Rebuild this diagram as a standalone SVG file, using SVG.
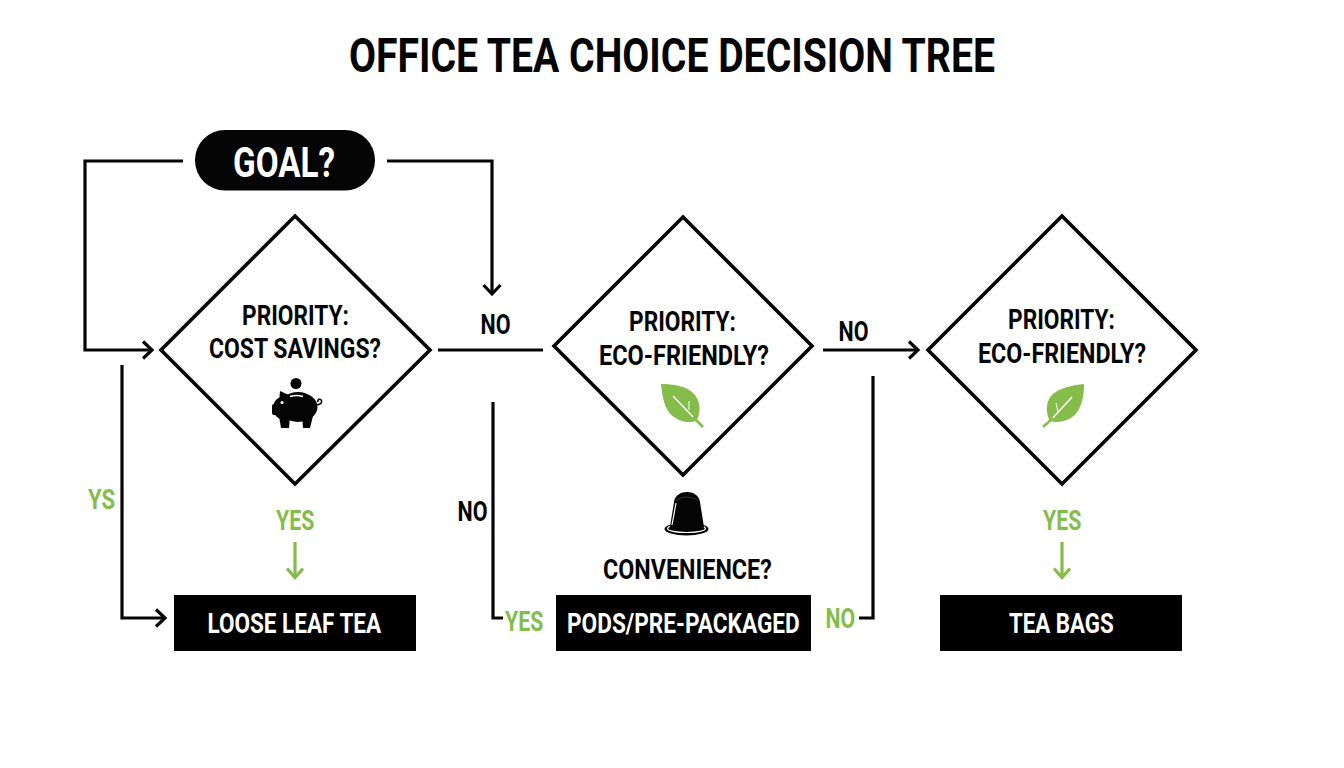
<svg xmlns="http://www.w3.org/2000/svg" width="1344" height="768" viewBox="0 0 1344 768">
<style>
text{font-family:"Roboto","Liberation Sans",sans-serif;font-weight:700}
.k{fill:#050505}.w{fill:#fff}.g{fill:#84bd4a}
.d{fill:#fff;stroke:#050505;stroke-width:3.600;stroke-linejoin:miter}
.c{fill:none;stroke:#050505;stroke-width:3.200}
.gh{fill:none;stroke:#84bd4a;stroke-width:3.200}
</style>
<rect width="1344" height="768" fill="#fff"/>
<text id="title" class="k" transform="translate(349,72.300) scale(.8,1)" font-size="48" textLength="807.500" lengthAdjust="spacingAndGlyphs">OFFICE TEA CHOICE DECISION TREE</text>
<g id="connectors">
<path class="c" d="M183 161H85V350H151"/><path class="c" d="M143 341.500L152 350L143 358.500"/>
<path class="c" d="M387 161H492V293"/><path class="c" d="M483.500 285L492 294L500.500 285"/>
<path class="c" d="M438 350H543"/>
<path class="c" d="M493 402V618H503"/>
<path class="c" d="M873 376V618H859"/>
<path class="c" d="M823 350H917"/><path class="c" d="M909 341.500L918 350L909 358.500"/>
<path class="c" d="M122 365V618H164"/><path class="c" d="M156 609.500L165 618L156 626.500"/>
<path class="gh" d="M295 542V577"/><path class="gh" d="M287 568.500L295 577.500L303 568.500"/>
<path class="gh" d="M1062 542V577"/><path class="gh" d="M1054 568.500L1062 577.500L1070 568.500"/>
</g>
<g id="goal">
<rect x="195" y="130" width="180" height="60.500" rx="30" fill="#050505"/>
<text class="w" transform="translate(233,176.500) scale(.8,1)" font-size="42" textLength="127.500" lengthAdjust="spacingAndGlyphs">GOAL?</text>
</g>
<g id="d1">
<polygon class="d" points="295,216 430,350 295,484 161,350"/>
<text class="k" transform="translate(242,325) scale(.8,1)" font-size="28" textLength="133.750" lengthAdjust="spacingAndGlyphs">PRIORITY:</text>
<text class="k" transform="translate(209,358) scale(.8,1)" font-size="28" textLength="215" lengthAdjust="spacingAndGlyphs">COST SAVINGS?</text>
<g id="piggy" fill="#050505">
<circle cx="296" cy="383.500" r="5.500"/>
<ellipse cx="298" cy="407" rx="19.500" ry="15"/>
<circle cx="285" cy="408" r="12"/>
<rect x="272" y="404" width="8" height="11" rx="2"/>
<path d="M280 391L291 396L279 403Z"/>
<path d="M279 416H290L289 428H281Z"/>
<path d="M302 416H313L310 428H303Z"/>
<path d="M290 396.500Q297 394.500 303 396.500" fill="none" stroke="#fff" stroke-width="1.500"/>
<circle cx="282" cy="402.500" r="1.500" fill="#fff"/>
<path d="M316 405C320 405 322.500 403 321.500 400.500C320.500 398.500 317 399 318 402" fill="none" stroke="#050505" stroke-width="1.600"/>
</g>
</g>
<g id="d2">
<polygon class="d" points="683,217 812,346 683,475 554,346"/>
<text class="k" transform="translate(629,331) scale(.8,1)" font-size="28" textLength="133.750" lengthAdjust="spacingAndGlyphs">PRIORITY:</text>
<text class="k" transform="translate(599,365) scale(.8,1)" font-size="28" textLength="212.500" lengthAdjust="spacingAndGlyphs">ECO-FRIENDLY?</text>
<g id="leaf2">
<path class="g" d="M661 384C673 384 688 386 695 395C701 403 701 414 696 421C688 424 675 421 668 411C663 403 662 392 661 384Z"/>
<path d="M673 396L695 419" fill="none" stroke="#fff" stroke-width="1.500"/>
<path d="M693 417L703 427" fill="none" stroke="#84bd4a" stroke-width="2.500"/>
<path d="M689 401L689 410" fill="none" stroke="#fff" stroke-width="1"/>
</g>
</g>
<g id="d3">
<polygon class="d" points="1062,216 1196,350 1062,484 928,350"/>
<text class="k" transform="translate(1008,329) scale(.8,1)" font-size="28" textLength="133.750" lengthAdjust="spacingAndGlyphs">PRIORITY:</text>
<text class="k" transform="translate(978,363) scale(.8,1)" font-size="28" textLength="210" lengthAdjust="spacingAndGlyphs">ECO-FRIENDLY?</text>
<g id="leaf3">
<path class="g" d="M1084 384C1072 385 1058 388 1051 396C1045 404 1046 414 1050 421C1060 424 1072 420 1078 411C1083 403 1084 392 1084 384Z"/>
<path d="M1072 397L1051 420" fill="none" stroke="#fff" stroke-width="1.500"/>
<path d="M1053 418L1043 427" fill="none" stroke="#84bd4a" stroke-width="2.500"/>
<path d="M1056 403L1058 412" fill="none" stroke="#fff" stroke-width="1"/>
</g>
</g>
<g id="pod">
<ellipse cx="686.500" cy="529" rx="22" ry="6.500" fill="#050505"/>
<ellipse cx="686.500" cy="528.500" rx="19" ry="4" fill="none" stroke="#fff" stroke-width="1.200"/>
<path fill="#050505" d="M674 502C675 495 681 492 687 492C693 492 699 495 700 502L704 527C698 531 676 531 670 527Z"/>
<path d="M676 503L672 525" fill="none" stroke="#fff" stroke-width="1.200"/>
<path d="M676 500Q687 494 698 500" fill="none" stroke="#333" stroke-width="1"/>
<text class="k" transform="translate(603,579) scale(.8,1)" font-size="28" textLength="211" lengthAdjust="spacingAndGlyphs">CONVENIENCE?</text>
</g>
<g id="b1">
<rect x="174" y="595" width="242" height="56" fill="#000"/>
<text class="w" transform="translate(207.500,632.500) scale(.8,1)" font-size="28" textLength="217" lengthAdjust="spacingAndGlyphs">LOOSE LEAF TEA</text>
</g>
<g id="b2">
<rect x="556" y="595" width="255" height="56" fill="#000"/>
<text class="w" transform="translate(567,632.500) scale(.8,1)" font-size="28" textLength="291" lengthAdjust="spacingAndGlyphs">PODS/PRE-PACKAGED</text>
</g>
<g id="b3">
<rect x="940" y="595" width="242" height="56" fill="#000"/>
<text class="w" transform="translate(1009,632.500) scale(.8,1)" font-size="28" textLength="131" lengthAdjust="spacingAndGlyphs">TEA BAGS</text>
</g>
<g id="labels">
<text class="k" transform="translate(480.500,333.500) scale(.8,1)" font-size="27" textLength="37.500" lengthAdjust="spacingAndGlyphs">NO</text>
<text class="k" transform="translate(838.500,341) scale(.8,1)" font-size="27" textLength="37.500" lengthAdjust="spacingAndGlyphs">NO</text>
<text class="k" transform="translate(457.500,521) scale(.8,1)" font-size="27" textLength="37.500" lengthAdjust="spacingAndGlyphs">NO</text>
<text class="g" transform="translate(88,509) scale(.8,1)" font-size="27" textLength="34" lengthAdjust="spacingAndGlyphs">YS</text>
<text class="g" transform="translate(276,529.500) scale(.8,1)" font-size="28" textLength="48" lengthAdjust="spacingAndGlyphs">YES</text>
<text class="g" transform="translate(1043,529.500) scale(.8,1)" font-size="28" textLength="48" lengthAdjust="spacingAndGlyphs">YES</text>
<text class="g" transform="translate(505,631) scale(.8,1)" font-size="28" textLength="48" lengthAdjust="spacingAndGlyphs">YES</text>
<text class="g" transform="translate(825.500,628) scale(.8,1)" font-size="28" textLength="37" lengthAdjust="spacingAndGlyphs">NO</text>
</g>
</svg>
